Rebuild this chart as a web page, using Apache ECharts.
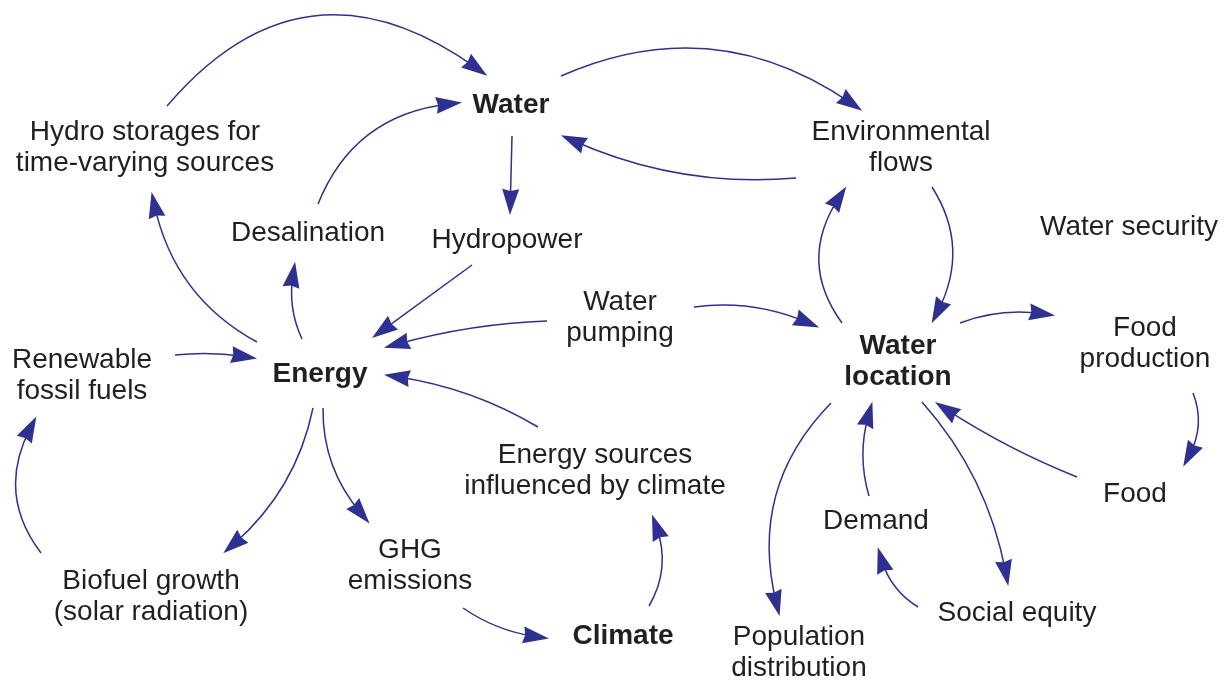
<!DOCTYPE html>
<html>
<head>
<meta charset="utf-8">
<script src="https://cdn.jsdelivr.net/npm/echarts@6/dist/echarts.min.js"></script>
<style>
  html, body { margin: 0; padding: 0; background: #fff; }
  #main { width: 1224px; height: 681px; }
</style>
</head>
<body>
<div id="main"></div>
<script>
// node labels and where they sit (pixel-like coords, y downwards)
const nodeNames = [
  'Water', 'Hydro storages for\ntime-varying sources', 'Environmental\nflows', 'Water security',
  'Desalination', 'Hydropower', 'Water\npumping', 'Renewable\nfossil fuels', 'Energy',
  'Water\nlocation', 'Food\nproduction', 'Energy sources\ninfluenced by climate', 'Food',
  'Demand', 'GHG\nemissions', 'Biofuel growth\n(solar radiation)', 'Climate',
  'Social equity', 'Population\ndistribution'
];
const nodeX = [511, 145, 901, 1129, 308, 507, 620, 82, 320, 898, 1145, 595, 1135, 876, 410, 151, 623, 1017, 799];
const nodeY = [105, 148, 148, 227, 233, 240, 318, 376, 374, 362, 344, 471, 494, 521, 566, 597, 636, 613, 653];
const nodeBold = ['Water', 'Energy', 'Water\nlocation', 'Climate'];

// links: start point, arrow tip, curveness
const edgeStart = [
  [167, 106], [318, 204], [512, 136], [472, 265], [547, 321], [302, 339], [257, 342],
  [561, 76], [796, 178], [842, 323], [932, 187], [694, 307], [960, 323], [1193, 393],
  [1077, 477], [922, 402], [918, 607], [869, 496], [831, 403], [649, 606], [538, 427],
  [323, 408], [313, 408], [41, 553], [175, 355], [463, 608]
];
const edgeEnd = [
  [487, 76], [462, 103], [510, 215], [372, 338], [384, 348], [296, 262], [152, 192],
  [862, 111], [561, 135], [847, 187], [931, 323], [819, 328], [1055, 316], [1182, 466],
  [935, 402], [1008, 586], [879, 547], [873, 402], [780, 616], [651, 515], [384, 375],
  [370, 523], [223, 553], [37, 417], [257, 359], [549, 638]
];
const edgeCurve = [
  0.46, 0.30, 0, 0, -0.06, 0.16, 0.23,
  0.28, 0.13, 0.35, 0.29, 0.14, 0.13, 0.24,
  0.05, 0.14, 0.20, 0.15, -0.28, -0.24, -0.10,
  -0.19, 0.17, 0.32, 0.07, -0.12
];

const ARROW_W = 17, ARROW_H = 26;
const BLUE = '#2e3192';

// echarts centres the end symbol on the line end, so pull the end back by half
// the arrow length along the end tangent and keep the control point close
function linkItem(p1, p2, c) {
  const mid = [(p1[0] + p2[0]) / 2, (p1[1] + p2[1]) / 2];
  const cp = [mid[0] - (p1[1] - p2[1]) * c, mid[1] - (p2[0] - p1[0]) * c];
  const tx = p2[0] - cp[0], ty = p2[1] - cp[1];
  const tl = Math.sqrt(tx * tx + ty * ty);
  const q = [p2[0] - tx / tl * ARROW_H / 2, p2[1] - ty / tl * ARROW_H / 2];
  const m2 = [(p1[0] + q[0]) / 2, (p1[1] + q[1]) / 2];
  const n = [q[1] - p1[1], p1[0] - q[0]];
  const c2 = c === 0 ? 0 : ((cp[0] - m2[0]) * n[0] + (cp[1] - m2[1]) * n[1]) / (n[0] * n[0] + n[1] * n[1]);
  return { coords: [p1, q], lineStyle: { curveness: c2 } };
}

const chart = echarts.init(document.getElementById('main'));

const option = {
  backgroundColor: '#fff',
  animation: false,
  grid: { left: 0, right: 0, top: 0, bottom: 0 },
  xAxis: { type: 'value', min: 0, max: 1224, show: false },
  yAxis: { type: 'value', min: 0, max: 681, inverse: true, show: false },
  series: [
    {
      type: 'lines',
      coordinateSystem: 'cartesian2d',
      silent: true,
      symbol: ['none', 'path://M8.5,0L17,26L8.5,24L0,26Z'],
      symbolSize: [[ARROW_W, ARROW_H], [ARROW_W, ARROW_H]],
      lineStyle: { color: BLUE, width: 1.5, opacity: 1 },
      itemStyle: { color: BLUE, opacity: 1 },
      data: edgeStart.map((s, i) => linkItem(s, edgeEnd[i], edgeCurve[i]))
    },
    {
      type: 'scatter',
      silent: true,
      symbolSize: 0,
      itemStyle: { opacity: 1 },
      label: {
        show: true,
        position: 'inside',
        formatter: p => p.data.name,
        color: '#231f20',
        opacity: 1,
        fontFamily: "'Liberation Sans', Arial, sans-serif",
        fontSize: 28,
        lineHeight: 31,
        align: 'center'
      },
      data: nodeNames.map((name, i) => ({
        name: name,
        value: [nodeX[i], nodeY[i]],
        label: { fontWeight: nodeBold.indexOf(name) >= 0 ? 'bold' : 'normal' }
      }))
    }
  ]
};

chart.setOption(option);
window.addEventListener('resize', () => chart.resize());
</script>
</body>
</html>
